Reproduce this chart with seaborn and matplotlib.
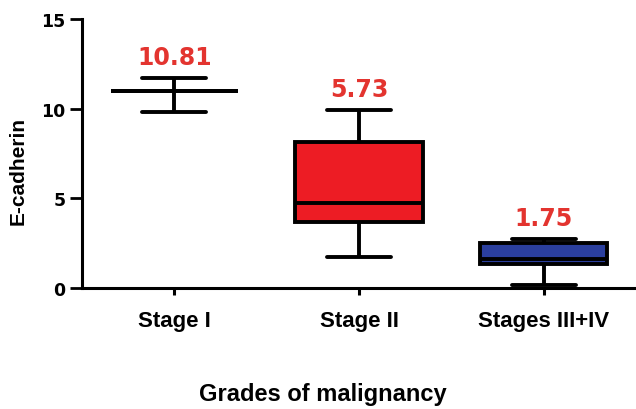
import matplotlib
matplotlib.use("Agg")
import matplotlib.pyplot as plt
import seaborn as sns
import pandas as pd

# Data (five-number summaries: min, q1, median, q3, max)
categories = ["Stage I", "Stage II", "Stages III+IV"]
stage1 = [9.8, 11.0, 11.0, 11.0, 11.7]
stage2 = [1.72, 3.70, 4.74, 8.14, 9.93]
stage34 = [0.17, 1.36, 1.62, 2.51, 2.75]
mean_labels = ["10.81", "5.73", "1.75"]
box_colors = ["#ffffff", "#ed1c24", "#2b3f9e"]

df = pd.DataFrame({
    "stage": [categories[0]] * len(stage1) + [categories[1]] * len(stage2) + [categories[2]] * len(stage34),
    "value": stage1 + stage2 + stage34,
})

sns.set_style("ticks")
plt.rcParams["font.family"] = ["Liberation Sans", "DejaVu Sans"]
plt.rcParams["text.color"] = "black"
plt.rcParams["axes.labelcolor"] = "black"

fig = plt.figure(figsize=(6.36, 4.10), dpi=100)
ax = fig.add_axes([82 / 636, 1 - 289 / 410, 1 - 82 / 636, (289 - 20) / 410])

sns.boxplot(data=df, x="stage", y="value", hue="stage", order=categories,
            hue_order=categories, palette=box_colors, whis=(0, 100),
            width=0.69, linewidth=2.8, linecolor="black", saturation=1,
            legend=False, ax=ax)

ax.set_xlim(-0.5, 2.5)
ax.set_ylim(0, 15)
ax.set_yticks([0, 5, 10, 15])

maxima = [max(stage1), max(stage2), max(stage34)]
for i, (lab, m) in enumerate(zip(mean_labels, maxima)):
    ax.text(i, m + 0.5, lab, ha="center", va="bottom", color="#e3342f",
            fontsize=17, fontweight="bold", family="DejaVu Sans")

for s in ["top", "right"]:
    ax.spines[s].set_visible(False)
for s in ["left", "bottom"]:
    ax.spines[s].set_linewidth(2.2)
    ax.spines[s].set_color("black")

ax.tick_params(axis="y", length=9, width=2, pad=3, labelsize=12.5, colors="black")
for t in ax.get_yticklabels():
    t.set_fontweight("bold")
    t.set_family("DejaVu Sans")
ax.tick_params(axis="x", length=5, width=2.2, pad=11, labelsize=16, colors="black")
for t in ax.get_xticklabels():
    t.set_fontweight("bold")

ax.set_ylabel("E-cadherin", fontsize=15, fontweight="bold", color="black")
ax.yaxis.set_label_coords((28 - 82) / 554, 0.44)
ax.set_xlabel("Grades of malignancy", fontsize=17, fontweight="bold", color="black")
ax.xaxis.set_label_coords((323 - 82) / 554, (289 - 383) / 269)

fig.savefig("out.png", dpi=100)
